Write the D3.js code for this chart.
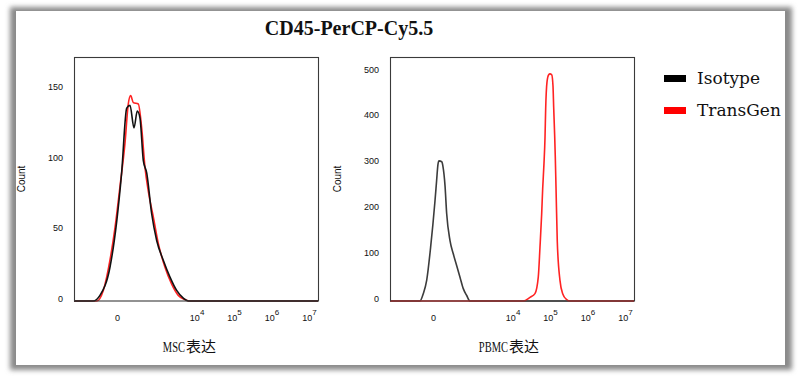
<!DOCTYPE html>
<html>
<head>
<meta charset="utf-8">
<script src="https://cdnjs.cloudflare.com/ajax/libs/d3/7.8.5/d3.min.js"></script>
<style>
  body { margin: 0; background: #fff; }
  svg { display: block; }
  .tick text { font-family: "Liberation Sans", Arial, sans-serif; font-size: 9px; fill: #111; }
</style>
</head>
<body>
<svg id="chart" width="800" height="378"></svg>
<script>
// series (x = fluorescence, y = count)
var title = "CD45-PerCP-Cy5.5";
var seriesNames = ["Isotype", "TransGen"];
var seriesColors = ["#111111", "#ff2323"];

var mscIsoX = [-988, -255, -140, -41, -1, 25, 62, 93, 140, 188, 236, 306, 395, 563, 793, 1227, 1892, 2892, 4378, 5973, 1.738e7];
var mscIsoCount = [0, 0, 4, 24, 57, 91, 137, 139, 123, 135, 130, 100, 91, 62, 43, 29, 17, 7.5, 2, 0, 0];
var mscTgX = [-988, -188, -100, -41, -10, 15, 48, 76, 100, 131, 205, 270, 348, 443, 629, 883, 1372, 2106, 3199, 4864, 6500, 1.738e7];
var mscTgCount = [0, 0, 7.5, 29, 52, 81, 112, 140, 146, 141, 140, 123, 95, 78, 60, 41, 24, 12, 4, 1, 0, 0];

var pbmcIsoX = [-988, -93, -62, -36, -12, 10, 19, 27, 34, 54, 64, 83, 100, 140, 188, 250, 323, 412, 526, 660, 1.738e7];
var pbmcIsoCount = [0, 0, 16, 45, 117, 219, 263, 298, 306, 304, 294, 252, 191, 132, 103, 77, 52, 27, 12, 0, 0];
var pbmcTgX = [-988, 19342, 29230, 39710, 48655, 54010, 59960, 63795, 69085, 73500, 76685, 83145, 92260, 99940, 111040, 120160, 125400, 133400, 138400, 144550, 156500, 184600, 218000, 278600, 341500, 1.738e7];
var pbmcTgCount = [0, 0, 8, 16, 52, 117, 190, 245, 300, 355, 420, 478, 494, 496, 494, 470, 423, 360, 315, 250, 130, 45, 16, 3, 0, 0];

var xTicks = [0, 1e4, 1e5, 1e6, 1e7];
var xTickExp = [null, "4", "5", "6", "7"];
var mscYTicks = [0, 50, 100, 150];
var pbmcYTicks = [0, 100, 200, 300, 400, 500];
var panelLabels = [["MSC", "表达"], ["PBMC", "表达"]];

var svg = d3.select("#chart");

// card with drop shadow
var defs = svg.append("defs");
defs.append("filter").attr("id", "shadow")
    .attr("x", "-5%").attr("y", "-5%").attr("width", "110%").attr("height", "110%")
  .append("feGaussianBlur").attr("stdDeviation", 2.6);
svg.append("rect")
    .attr("x", 10).attr("y", 7).attr("width", 782).attr("height", 363)
    .attr("fill", "#8a8a8a").attr("filter", "url(#shadow)");
svg.append("rect")
    .attr("x", 16).attr("y", 11).attr("width", 769).attr("height", 354)
    .attr("fill", "#fff");

svg.append("text")
    .attr("x", 349).attr("y", 35)
    .attr("text-anchor", "middle")
    .style("font-family", "'Liberation Serif', 'Times New Roman', serif")
    .style("font-weight", "bold").style("font-size", "20px")
    .style("fill", "#111")
    .text(title);

function buildPanel(left, yMax, yTicks, series, label, splitX) {
	var w = 244, h = 244, top = 57;
	var g = svg.append("g").attr("transform", "translate(" + left + "," + top + ")");

	var x = d3.scaleSymlog().constant(76)
	    .domain([-988, 1.738e7])
	    .range([0, w]);
	var y = d3.scaleLinear()
	    .domain([0, yMax])
	    .range([h, 0]);

	// y axis labels only
	var ya = g.append("g")
	    .call(d3.axisLeft(y).tickValues(yTicks).tickSize(0).tickPadding(11));
	ya.select(".domain").remove();
	ya.selectAll("text").attr("dy", "0");

	// x axis labels with superscript powers
	var xa = g.append("g")
	    .attr("transform", "translate(0," + h + ")")
	    .call(d3.axisBottom(x).tickValues(xTicks).tickSize(0).tickPadding(14)
	        .tickFormat(function() { return ""; }));
	xa.select(".domain").remove();
	xa.selectAll(".tick text").each(function(d, i) {
		var t = d3.select(this);
		if (xTickExp[i] == null) {
			t.text("0");
			return;
		}
		t.append("tspan").text("10");
		t.append("tspan").attr("dy", "-6").style("font-size", "8px").text(xTickExp[i]);
	});

	var line = d3.line()
	    .x(function(d) { return x(d[0]); })
	    .y(function(d) { return y(d[1]); })
	    .curve(d3.curveMonotoneX);

	series.forEach(function(s) {
		var pts = s.xs.map(function(v, i) { return [v, s.counts[i]]; });
		g.append("path")
		    .datum(pts)
		    .attr("fill", "none")
		    .attr("stroke", s.color)
		    .attr("stroke-width", 1.6)
		    .attr("stroke-linejoin", "round")
		    .attr("d", line);
	});

	g.append("rect")
	    .attr("x", 0.5).attr("y", 0.5).attr("width", w).attr("height", h - 0.5)
	    .attr("fill", "none").attr("stroke", "#3a3a3a").attr("stroke-width", 1.1);

	g.append("text")
	    .attr("transform", "translate(" + (-49) + "," + (h / 2) + ") rotate(-90)")
	    .attr("text-anchor", "middle")
	    .style("font-family", "'Liberation Sans', Arial, sans-serif")
	    .style("font-size", "10px").style("fill", "#111")
	    .text("Count");

	// axis title: narrow latin part + chinese part
	svg.append("text")
	    .attr("transform", "translate(" + splitX + ",351.5) scale(0.7,1)")
	    .attr("text-anchor", "end")
	    .style("font-family", "'Liberation Serif', serif").style("font-size", "15px")
	    .style("fill", "#111")
	    .text(label[0]);
	svg.append("text")
	    .attr("x", splitX + 1).attr("y", 351.5)
	    .style("font-family", "'Noto Sans CJK SC', sans-serif").style("font-size", "15px")
	    .style("fill", "#111")
	    .text(label[1]);
}

buildPanel(74, 173.4, mscYTicks, [
	{xs: mscTgX, counts: mscTgCount, color: seriesColors[1]},
	{xs: mscIsoX, counts: mscIsoCount, color: seriesColors[0]}
], panelLabels[0], 185);

buildPanel(390, 532.8, pbmcYTicks, [
	{xs: pbmcIsoX, counts: pbmcIsoCount, color: "#3c3c3c"},
	{xs: pbmcTgX, counts: pbmcTgCount, color: seriesColors[1]}
], panelLabels[1], 508);

// legend
var legend = svg.append("g");
seriesNames.forEach(function(n, i) {
	legend.append("rect")
	    .attr("x", 664).attr("y", 75 + i * 32).attr("width", 22).attr("height", 7)
	    .attr("fill", i == 0 ? "#000" : "#ff0000");
	legend.append("text")
	    .attr("x", 697).attr("y", 84 + i * 32)
	    .style("font-family", "'DejaVu Serif', serif").style("font-size", "17px")
	    .style("fill", "#111")
	    .text(n);
});
</script>
</body>
</html>
